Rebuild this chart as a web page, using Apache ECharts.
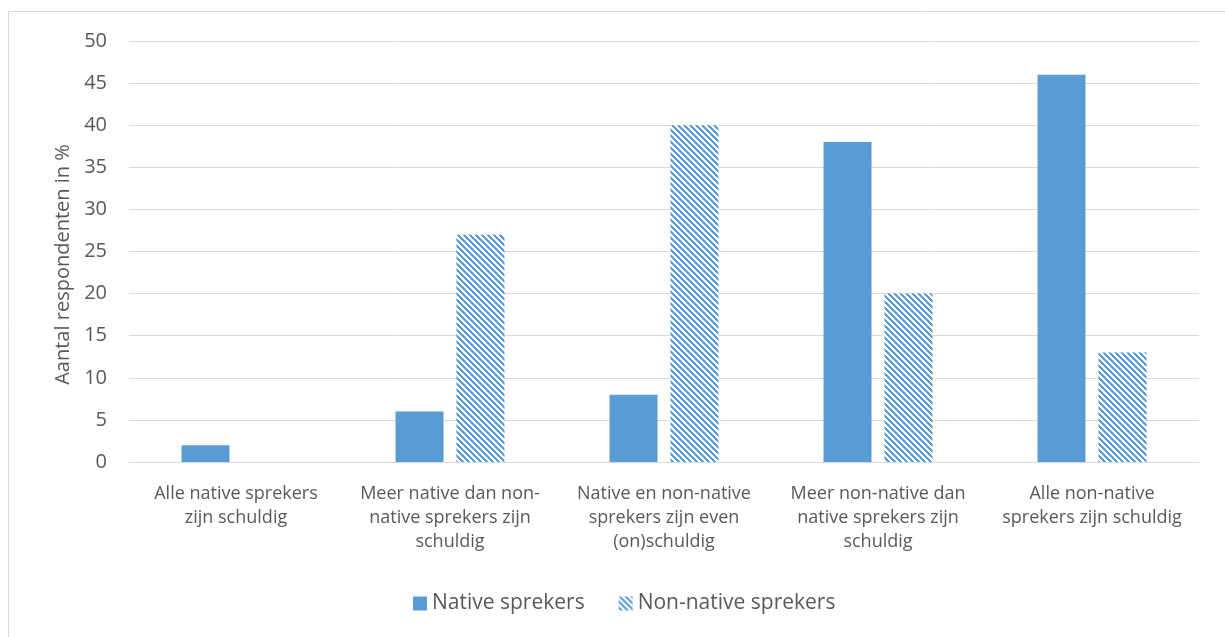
<!DOCTYPE html>
<html>
<head>
<meta charset="utf-8">
<script src="https://cdn.jsdelivr.net/npm/echarts@6/dist/echarts.min.js"></script>
<style>
  html, body { margin: 0; padding: 0; background: #fff; }
  #chart { width: 1225px; height: 637px; }
</style>
</head>
<body>
<div id="chart"></div>
<script>
// Answer categories (x axis)
const categories = [
  'Alle native sprekers\nzijn schuldig',
  'Meer native dan non-\nnative sprekers zijn\nschuldig',
  'Native en non-native\nsprekers zijn even\n(on)schuldig',
  'Meer non-native dan\nnative sprekers zijn\nschuldig',
  'Alle non-native\nsprekers zijn schuldig'
];
// Share of respondents (%) per group
const nativeValues = [2, 6, 8, 38, 46];
const nonNativeValues = [0, 27, 40, 20, 13];
const seriesNames = ['Native sprekers', 'Non-native sprekers'];
const yTicks = { min: 0, max: 50, interval: 5 };

const blue = '#5B9BD5';
const fontFamily = '"Open Sans", "Noto Sans", sans-serif';
const textColor = '#595959';

// Diagonal-stripe fill for the second series
function stripePattern() {
  const n = 6;
  const c = document.createElement('canvas');
  c.width = n; c.height = n;
  const ctx = c.getContext('2d');
  ctx.fillStyle = '#ffffff';
  ctx.fillRect(0, 0, n, n);
  ctx.fillStyle = blue;
  for (let y = 0; y < n; y++) {
    for (let x = 0; x < n; x++) {
      const d = ((x - y) % n + n) % n;
      if (d < 3) ctx.fillRect(x, y, 1, 1);
    }
  }
  return { image: c, repeat: 'repeat' };
}

const chart = echarts.init(document.getElementById('chart'), null, { renderer: 'canvas' });
chart.setOption({
  animation: false,
  backgroundColor: '#ffffff',
  graphic: [{
    type: 'rect',
    silent: true,
    shape: { x: 8.5, y: 11.5, width: 1400, height: 800 },
    style: { fill: 'none', stroke: '#d9d9d9', lineWidth: 1 }
  }],
  grid: { left: 129, right: 26, top: 41, bottom: 175 },
  legend: {
    bottom: 18,
    left: 408,
    itemWidth: 14,
    itemHeight: 14,
    itemGap: 34,
    icon: 'rect',
    textStyle: { color: textColor, fontSize: 21, fontFamily: fontFamily },
    data: seriesNames
  },
  xAxis: {
    type: 'category',
    data: categories,
    axisLine: { lineStyle: { color: '#d9d9d9', width: 1 } },
    axisTick: { show: false },
    axisLabel: {
      color: textColor,
      fontSize: 18,
      fontFamily: fontFamily,
      lineHeight: 24,
      margin: 20,
      interval: 0
    }
  },
  yAxis: {
    type: 'value',
    min: yTicks.min,
    max: yTicks.max,
    interval: yTicks.interval,
    name: 'Aantal respondenten in %',
    nameLocation: 'middle',
    nameGap: 55,
    nameTextStyle: { color: textColor, fontSize: 20, fontFamily: fontFamily, padding: [0, 26, 0, 0] },
    axisLine: { show: false },
    axisTick: { show: false },
    axisLabel: { color: textColor, fontSize: 20, fontFamily: fontFamily, margin: 22 },
    splitLine: { lineStyle: { color: '#d9d9d9', width: 1 } }
  },
  series: [
    {
      name: seriesNames[0],
      type: 'bar',
      data: nativeValues,
      barWidth: 48,
      barGap: '27%',
      itemStyle: { color: blue }
    },
    {
      name: seriesNames[1],
      type: 'bar',
      data: nonNativeValues,
      barWidth: 48,
      barGap: '27%',
      itemStyle: { color: stripePattern() }
    }
  ]
});
</script>
</body>
</html>
